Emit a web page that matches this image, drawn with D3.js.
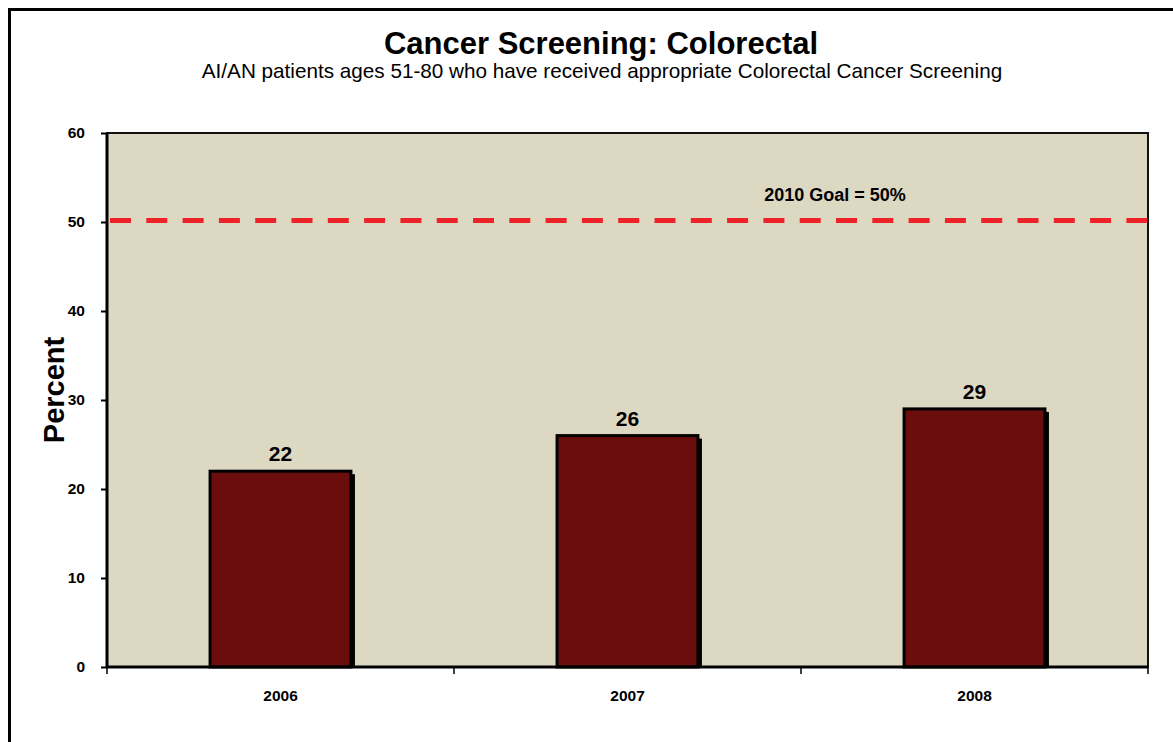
<!DOCTYPE html>
<html><head><meta charset="utf-8">
<script src="https://cdn.jsdelivr.net/npm/d3@7"></script>
<style>body{margin:0;background:#fff;}svg{display:block;font-family:Arial,"Liberation Sans",sans-serif;}</style>
</head><body>
<script>
const years = ["2006","2007","2008"];
const percents = [22,26,29];
const goalValue = 50;
const goalLabel = "2010 Goal = 50%";
const yTicks = [0,10,20,30,40,50,60];
const titleText = "Cancer Screening: Colorectal";
const subtitleText = "AI/AN patients ages 51-80 who have received appropriate Colorectal Cancer Screening";
const yLabel = "Percent";

const W=1173,H=742;
const svg=d3.select("body").append("svg").attr("width",W).attr("height",H);
// outer border
svg.append("path").attr("d","M9.5,760 L9.5,9.5 L1190,9.5").attr("fill","none").attr("stroke","#000").attr("stroke-width",3);

const m={l:107,r:1148,t:133,b:667};
const x=d3.scaleBand().domain(years).range([m.l,m.r]).paddingInner(0.594).paddingOuter(0.297);
const y=d3.scaleLinear().domain([0,60]).range([m.b,m.t]);

svg.append("rect").attr("x",m.l).attr("y",m.t).attr("width",m.r-m.l).attr("height",m.b-m.t)
  .attr("fill","#DDD8C2").attr("stroke","#111").attr("stroke-width",2);

// goal line
svg.append("line").attr("x1",m.l+3).attr("x2",m.r).attr("y1",y(goalValue)-1.5).attr("y2",y(goalValue)-1.5)
  .attr("stroke","#EE2229").attr("stroke-width",5).attr("stroke-dasharray","21,15.3");
svg.append("text").attr("x",835).attr("y",y(goalValue)-21).attr("text-anchor","middle")
  .attr("font-size",18).attr("font-weight","bold").text(goalLabel);

// bar shadows
svg.selectAll("rect.sh").data(years).enter().append("rect").attr("class","sh")
  .attr("x",d=>x(d)+4).attr("y",(d,i)=>y(percents[i])+3).attr("width",x.bandwidth())
  .attr("height",(d,i)=>y(0)-y(percents[i])-3).attr("fill","#000");
svg.selectAll("rect.bar").data(years).enter().append("rect").attr("class","bar")
  .attr("x",d=>x(d)).attr("y",(d,i)=>y(percents[i])).attr("width",x.bandwidth())
  .attr("height",(d,i)=>y(0)-y(percents[i])).attr("fill","#6B0D0D").attr("stroke","#000").attr("stroke-width",3);
svg.selectAll("text.val").data(years).enter().append("text").attr("class","val")
  .attr("x",d=>x(d)+x.bandwidth()/2).attr("y",(d,i)=>y(percents[i])-10).attr("text-anchor","middle")
  .attr("font-size",21).attr("font-weight","bold").text((d,i)=>percents[i]);

// axes
const ya=svg.append("g").attr("transform",`translate(${m.l},0)`)
  .call(d3.axisLeft(y).tickValues(yTicks).tickSize(6).tickPadding(16));
ya.select(".domain").attr("stroke","#000").attr("stroke-width",3).attr("d",`M0,${m.b}V${m.t}`);
ya.selectAll(".tick line").attr("stroke","#000").attr("stroke-width",2);
ya.selectAll("text").attr("font-size",15.5).attr("font-weight","bold").attr("fill","#000").attr("font-family","Arial,'Liberation Sans',sans-serif");

const xa=svg.append("g").attr("transform",`translate(0,${m.b})`)
  .call(d3.axisBottom(x).tickSize(0).tickPadding(23));
xa.select(".domain").attr("stroke","#000").attr("stroke-width",3).attr("d",`M${m.l},0H${m.r}`);
xa.selectAll("text").attr("font-size",15.5).attr("font-weight","bold").attr("fill","#000").attr("font-family","Arial,'Liberation Sans',sans-serif");
// category boundary ticks
const bounds=[0,1,2,3].map(i=>m.l+i*(m.r-m.l)/3);
svg.selectAll("line.xt").data(bounds).enter().append("line").attr("class","xt")
  .attr("x1",d=>d).attr("x2",d=>d).attr("y1",m.b).attr("y2",m.b+7).attr("stroke","#000").attr("stroke-width",1.5);

// titles
svg.append("text").attr("x",601).attr("y",54).attr("text-anchor","middle").attr("font-size",31).attr("font-weight","bold").text(titleText);
svg.append("text").attr("x",602).attr("y",78).attr("text-anchor","middle").attr("font-size",20.7).text(subtitleText);
svg.append("text").attr("transform","translate(64,390) rotate(-90)").attr("text-anchor","middle").attr("font-size",29).attr("font-weight","bold").text(yLabel);
</script>
</body></html>
